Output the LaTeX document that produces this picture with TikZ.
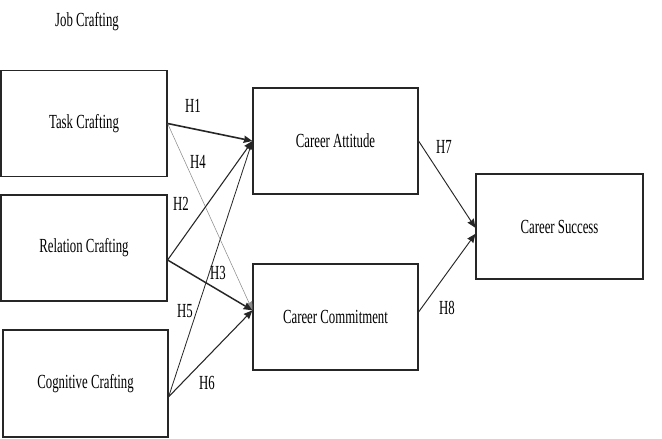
\documentclass[tikz,border=0pt]{standalone}
\usepackage{fontspec}
\setmainfont{Liberation Serif}
\usetikzlibrary{arrows.meta}
\newcommand{\sqz}[1]{\scalebox{0.64}[1]{#1}}
\tikzset{
  box/.style={draw=black!85, line width=0.9pt, rectangle, inner sep=0pt,
    minimum width=124.5pt, minimum height=79pt, font=\fontsize{15}{18}\selectfont},
  lbl/.style={inner sep=0pt, font=\fontsize{15}{18}\selectfont},
  arr/.style={-{Stealth[length=6.5pt,width=5.5pt,inset=0.5pt]}, draw=black!85},
}
\begin{document}
\begin{tikzpicture}[x=0.75pt,y=-0.75pt]
\useasboundingbox (0,0) rectangle (662,439);
\fill[white] (0,0) rectangle (662,439);

\node[lbl] (jc) at (87,22) {\sqz{Job Crafting}};

\node[box] (task) at (84,123.5) {\sqz{Task Crafting}};
\node[box, minimum height=79.5pt] (rel) at (84,248) {\sqz{Relation Crafting}};
\node[box, minimum width=123.75pt, minimum height=80.25pt] (cog) at (85.5,383.5) {\sqz{Cognitive Crafting}};
\node[box, minimum width=123.75pt, minimum height=79.5pt] (att) at (335.5,141) {\sqz{Career Attitude}};
\node[box, minimum width=123.75pt, minimum height=79.5pt] (com) at (335.5,317) {\sqz{Career Commitment}};
\node[box, minimum width=125.25pt, minimum height=78.75pt] (suc) at (559.5,226.5) {\sqz{Career Success}};

\coordinate (relS) at ([yshift=-9pt]rel.east);
\coordinate (cogS) at ([yshift=-10pt]cog.east);
\coordinate (comT) at ([yshift=5pt]com.west);
\coordinate (comE) at ([yshift=3.75pt]com.east);
\coordinate (sucA) at ([yshift=-1pt]suc.west);
\coordinate (sucB) at ([yshift=-5.5pt]suc.west);

\draw[arr, line width=0.4pt, draw=black!45] (task.east) -- (comT);
\draw[arr, line width=1.2pt] (task.east) -- (att.west);
\draw[arr, line width=0.8pt] (relS) -- (att.west);
\draw[arr, line width=1.1pt] (relS) -- (comT);
\draw[arr, line width=0.6pt] (cogS) -- (att.west);
\draw[arr, line width=0.8pt] (cogS) -- (comT);
\draw[arr, line width=0.7pt] (att.east) -- (sucA);
\draw[arr, line width=0.7pt] (comE) -- (sucB);

\node[lbl] (h1) at (193,106) {\sqz{H1}};
\node[lbl] (h4) at (198,162) {\sqz{H4}};
\node[lbl] (h2) at (181,204) {\sqz{H2}};
\node[lbl] (h3) at (218,273) {\sqz{H3}};
\node[lbl] (h5) at (185,311) {\sqz{H5}};
\node[lbl] (h6) at (207,383) {\sqz{H6}};
\node[lbl] (h7) at (444,147) {\sqz{H7}};
\node[lbl] (h8) at (447,308) {\sqz{H8}};
\end{tikzpicture}
\end{document}
